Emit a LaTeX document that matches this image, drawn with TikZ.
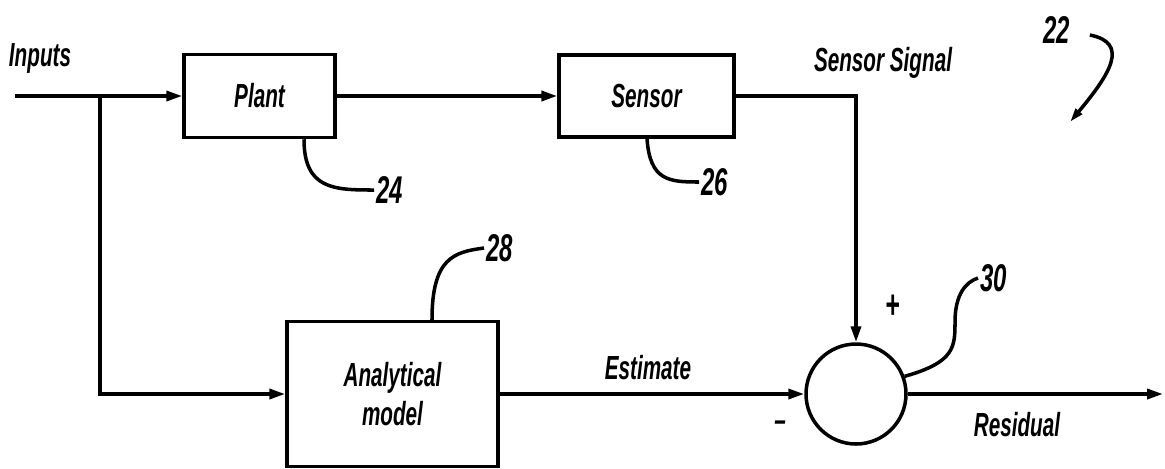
\documentclass[tikz,border=0pt]{standalone}
\usepackage{fontspec}
\newfontfamily\diagfont[FakeStretch=0.62]{Liberation Sans}
\usetikzlibrary{arrows.meta, positioning}

\begin{document}
\begin{tikzpicture}[
    x=0.02cm, y=-0.02cm,
    >={Triangle[length=0.32cm, width=0.2cm]},
    every node/.style={font=\diagfont\bfseries\itshape\fontsize{19pt}{22pt}\selectfont},
    block/.style={rectangle, draw, line width=2pt, inner sep=0pt},
    junction/.style={circle, draw, line width=2pt, minimum size=2cm, inner sep=0pt},
    signal/.style={->, line width=2pt},
    leader/.style={line width=2pt},
    refnum/.style={anchor=west, inner sep=1pt, font=\diagfont\bfseries\itshape\fontsize{22pt}{24pt}\selectfont},
]
\useasboundingbox (0,0) rectangle (1165,468);

% --- Blocks ---
\node[block, minimum width=3.02cm, minimum height=1.66cm] (plant) at (259.5,96) {Plant};
\node[block, minimum width=3.5cm, minimum height=1.64cm] (sensor) at (646.5,96) {Sensor};
\node[block, minimum width=4.22cm, minimum height=2.9cm, align=center] (model) at (392.5,394) {Analytical\\model};
\node[junction] (sum) at (856,394) {};

% --- Free ends ---
\coordinate (in) at (15,96);
\coordinate (split) at (100,96);
\coordinate (out) at (1163,394);

% --- Signal labels ---
\node (inputs) at (40,58) {Inputs};
\node (sensorsig) at (883,63) {Sensor Signal};
\node (estimate) at (648,368) {Estimate};
\node (residual) at (1017,425) {Residual};
\node[scale=1.2] (plus) at (893,307) {+};
\node (minus) at (780,426) {–};

% --- Signal paths ---
\draw[signal] (in) -- (plant.west);
\draw[signal] (split) |- (model.west);
\draw[signal] (plant.east) -- (sensor.west);
\draw[signal] (sensor.east) -| (sum.north);
\draw[signal] (model.east) -- (sum.west);
\draw[signal] (sum.east) -- (out);

% --- Reference numerals ---
\node[refnum] (n24) at (374,190) {24};
\node[refnum] (n26) at (699,182) {26};
\node[refnum] (n28) at (484,248) {28};
\node[refnum] (n30) at (978,278) {30};
\node[refnum] (n22) at (1041,30) {22};

\draw[leader] ([xshift=0.89cm]plant.south) .. controls +(0,50) and +(-40,0) .. (n24.west);
\draw[leader] ([xshift=0.01cm]sensor.south) .. controls +(3,42) and +(-30,0) .. (n26.west);
\draw[leader] ([xshift=0.79cm]model.north) .. controls +(0,-62) and +(-30,4) .. (n28.west);
\draw[leader] (sum.20) .. controls +(50,-14) and +(0,25) .. (955,322)
    .. controls +(0,-28) and +(-12,4) .. (n30.west);
\coordinate (tip22) at (1070,122);
\draw[leader, ->, >={Triangle[length=0.28cm, width=0.16cm]}] ([xshift=0.36cm, yshift=-0.1cm]n22.east)
    .. controls +(40,8) and +(40,-48) .. (tip22);

\end{tikzpicture}
\end{document}
